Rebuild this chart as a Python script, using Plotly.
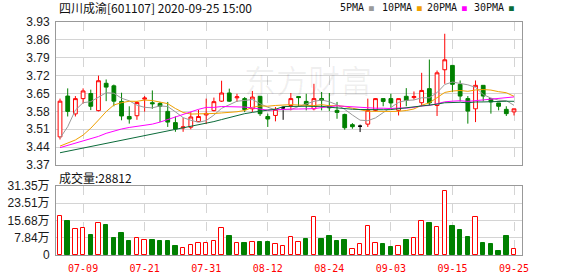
import plotly.graph_objects as go
import pandas as pd

# ---------------- data ----------------
dates = ["07-06", "07-07", "07-08", "07-09", "07-10", "07-13", "07-14", "07-15", "07-16", "07-17",
         "07-20", "07-21", "07-22", "07-23", "07-24", "07-27", "07-28", "07-29", "07-30", "07-31",
         "08-03", "08-04", "08-05", "08-06", "08-07", "08-10", "08-11", "08-12", "08-13", "08-14",
         "08-17", "08-18", "08-19", "08-20", "08-21", "08-24", "08-25", "08-26", "08-27", "08-28",
         "08-31", "09-01", "09-02", "09-03", "09-04", "09-07", "09-08", "09-09", "09-10", "09-11",
         "09-14", "09-15", "09-16", "09-17", "09-18", "09-21", "09-22", "09-23", "09-24", "09-25"]

open_ = [3.48, 3.64, 3.57, 3.63, 3.65, 3.583, 3.69, 3.68, 3.619, 3.56,
         3.563, 3.628, 3.614, 3.611, 3.58, 3.536, 3.515, 3.518, 3.54, 3.566,
         3.583, 3.62, 3.652, 3.633, 3.63, 3.59, 3.639, 3.56, 3.564, 3.594,
         3.603, 3.638, 3.619, 3.59, 3.63, 3.60, 3.584, 3.568, 3.528, 3.522,
         3.53, 3.584, 3.63, 3.63, 3.584, 3.639, 3.634, 3.614, 3.669, 3.603,
         3.743, 3.76, 3.686, 3.63, 3.59, 3.682, 3.63, 3.613, 3.588, 3.578]
high = [3.63, 3.67, 3.64, 3.67, 3.665, 3.72, 3.705, 3.685, 3.653, 3.60,
        3.62, 3.64, 3.662, 3.617, 3.617, 3.56, 3.555, 3.577, 3.586, 3.63,
        3.634, 3.70, 3.669, 3.649, 3.636, 3.66, 3.64, 3.571, 3.597, 3.60,
        3.652, 3.638, 3.649, 3.688, 3.656, 3.652, 3.617, 3.571, 3.534, 3.528,
        3.63, 3.632, 3.63, 3.649, 3.63, 3.671, 3.658, 3.731, 3.783, 3.74,
        3.884, 3.76, 3.701, 3.64, 3.701, 3.682, 3.63, 3.613, 3.60, 3.59]
low = [3.47, 3.56, 3.56, 3.61, 3.585, 3.58, 3.62, 3.60, 3.545, 3.532,
       3.547, 3.579, 3.59, 3.538, 3.519, 3.50, 3.50, 3.51, 3.539, 3.53,
       3.58, 3.617, 3.617, 3.617, 3.577, 3.577, 3.562, 3.519, 3.541, 3.547,
       3.584, 3.60, 3.584, 3.584, 3.584, 3.581, 3.551, 3.508, 3.512, 3.499,
       3.519, 3.58, 3.60, 3.594, 3.564, 3.60, 3.626, 3.60, 3.603, 3.562,
       3.688, 3.655, 3.619, 3.532, 3.538, 3.619, 3.571, 3.584, 3.562, 3.564]
close = [3.62, 3.58, 3.63, 3.66, 3.60, 3.70, 3.675, 3.62, 3.562, 3.55,
         3.615, 3.632, 3.61, 3.60, 3.538, 3.511, 3.519, 3.558, 3.56, 3.572,
         3.618, 3.652, 3.62, 3.637, 3.587, 3.636, 3.571, 3.55, 3.588, 3.594,
         3.63, 3.634, 3.607, 3.63, 3.623, 3.594, 3.576, 3.516, 3.52, 3.522,
         3.584, 3.63, 3.619, 3.613, 3.63, 3.623, 3.638, 3.662, 3.613, 3.731,
         3.782, 3.686, 3.64, 3.581, 3.682, 3.64, 3.617, 3.60, 3.571, 3.59]
# volume in 万 (10k shares)
volume_wan = [17.6, 15.4, 11.7, 12.1, 9.1, 14.4, 13.6, 7.7, 10.0, 6.4,
              7.6, 6.7, 6.8, 6.4, 6.4, 4.1, 3.0, 4.4, 5.3, 5.3,
              6.2, 12.1, 8.6, 5.3, 5.5, 5.8, 5.9, 5.9, 4.8, 3.9,
              8.0, 5.8, 7.3, 17.1, 7.3, 8.6, 6.4, 6.8, 2.6, 4.8,
              13.0, 5.3, 5.0, 3.6, 4.1, 6.8, 7.6, 15.3, 14.5, 12.7,
              28.9, 13.2, 11.4, 8.2, 17.1, 5.5, 5.0, 1.8, 8.6, 2.8812]

# moving-average values before the window is complete
ma5_head = [3.475, 3.52, 3.585, 3.614]
ma10_head = [3.444, 3.455, 3.468, 3.487, 3.514, 3.546, 3.579, 3.605, 3.614]
ma20_head = [3.438, 3.447, 3.456, 3.464, 3.472, 3.482, 3.494, 3.503, 3.511, 3.517,
             3.521, 3.525, 3.530, 3.538, 3.548, 3.559, 3.570, 3.580, 3.588]
ma30_head = [3.418, 3.424, 3.43, 3.436, 3.442, 3.448, 3.454, 3.46, 3.466, 3.472,
             3.478, 3.484, 3.49, 3.497, 3.504, 3.51, 3.516, 3.522, 3.528, 3.534,
             3.54, 3.548, 3.556, 3.564, 3.571, 3.576, 3.581, 3.585, 3.588]

tick_dates = ["07-09", "07-21", "07-31", "08-12", "08-24", "09-03", "09-15", "09-25"]
price_ticks = [3.37, 3.44, 3.51, 3.58, 3.65, 3.72, 3.79, 3.86, 3.93]
vol_ticks = [0, 7.84, 15.68, 23.51, 31.35]
vol_max = 31.35
title_text = "四川成渝[601107] 2020-09-25 15:00"
volume_title = "成交量"
last_volume = 28812
ma_names = ["5PMA", "10PMA", "20PMA", "30PMA"]

# ---------------- style ----------------
RED = "#ff0000"
GREEN = "#008000"
MA_COLORS = ["#9a9a9a", "#f0a000", "#ff00ff", "#0b6b3a"]
GRID = "#d4d4d4"
FRAME = "#999999"
W, H = 578, 276
ML, MR, MT, MB = 56, 56, 22, 21
PW, PH = W - ML - MR, H - MT - MB


def px(x):
    return (x - ML) / PW


def py(y):
    return (H - MB - y) / PH


s = pd.Series(close)


def moving_avg(n, head):
    roll = s.rolling(n).mean().tolist()
    return list(head) + roll[len(head):]


ma_series = [moving_avg(5, ma5_head), moving_avg(10, ma10_head),
             moving_avg(20, ma20_head), moving_avg(30, ma30_head)]

fig = go.Figure()

n = len(dates)
up = [i for i in range(n) if close[i] > open_[i]]
down = [i for i in range(n) if close[i] < open_[i]]
flat = [i for i in range(n) if close[i] == open_[i]]

for idxs, col, fill in [(up, RED, "#ffffff"), (down, GREEN, GREEN), (flat, "#000000", "#000000")]:
    if not idxs:
        continue
    fig.add_trace(go.Candlestick(
        x=[dates[i] for i in idxs],
        open=[open_[i] for i in idxs], high=[high[i] for i in idxs],
        low=[low[i] for i in idxs], close=[close[i] for i in idxs],
        increasing=dict(line=dict(color=col, width=1), fillcolor=fill),
        decreasing=dict(line=dict(color=col, width=1), fillcolor=fill),
        whiskerwidth=0, showlegend=False, hoverinfo="skip",
        xaxis="x", yaxis="y"))

for vals, col in zip(ma_series, MA_COLORS):
    fig.add_trace(go.Scatter(x=dates, y=vals, mode="lines",
                             line=dict(color=col, width=1),
                             showlegend=False, hoverinfo="skip",
                             xaxis="x", yaxis="y"))

# volume bars: red hollow when close >= previous close, green filled otherwise
vol_up = [close[0] >= open_[0]] + [close[i] >= close[i - 1] for i in range(1, n)]
fig.add_trace(go.Bar(
    x=dates, y=volume_wan, width=0.58,
    marker=dict(color=["#ffffff" if u else GREEN for u in vol_up],
                line=dict(color=[RED if u else GREEN for u in vol_up], width=1)),
    showlegend=False, hoverinfo="skip", xaxis="x2", yaxis="y2"))

xcommon = dict(type="category", categoryorder="array", categoryarray=dates,
               range=[-0.52, 60.04], tickmode="array", tickvals=tick_dates,
               showgrid=True, gridcolor=GRID, griddash="dash", gridwidth=1,
               showline=True, linecolor=FRAME, linewidth=1, mirror=True,
               ticks="", zeroline=False, fixedrange=True, automargin=False)

fig.update_layout(
    width=W, height=H, autosize=False,
    margin=dict(l=ML, r=MR, t=MT, b=MB, pad=0, autoexpand=False),
    paper_bgcolor="white", plot_bgcolor="white",
    showlegend=False, bargap=0,
    xaxis=dict(xcommon, anchor="y", showticklabels=False,
               rangeslider=dict(visible=False)),
    xaxis2=dict(xcommon, anchor="y2", matches="x", showticklabels=True,
                ticktext=tick_dates, ticklabelstandoff=4,
                tickfont=dict(family="DejaVu Sans Mono", size=10, color=RED)),
    yaxis=dict(domain=[py(165), 1], range=[price_ticks[0], price_ticks[-1]],
               tickmode="array", tickvals=price_ticks,
               ticktext=["%.2f" % v for v in price_ticks],
               showgrid=True, gridcolor=GRID, gridwidth=1,
               showline=True, linecolor=FRAME, mirror=True, ticks="",
               zeroline=False, ticklabelstandoff=3, automargin=False,
               tickfont=dict(family="Liberation Sans", size=12, color="#1a1a1a")),
    yaxis2=dict(domain=[0, py(186)], range=[0, vol_max],
                tickmode="array", tickvals=vol_ticks,
                ticktext=["0" if v == 0 else "%.2f万" % v for v in vol_ticks],
                showgrid=True, gridcolor=GRID, gridwidth=1,
                showline=True, linecolor=FRAME, mirror=True, ticks="",
                zeroline=False, ticklabelstandoff=3, automargin=False,
                tickfont=dict(family="Liberation Sans, Noto Sans CJK SC", size=12, color="#1a1a1a")),
)

ann = []
# watermark
ann.append(dict(text="东方财富", x=px(308), y=py(79), xref="paper", yref="paper",
                showarrow=False, xanchor="center", yanchor="middle",
                font=dict(family="Noto Sans CJK SC", size=32, color="rgba(0,0,0,0.06)")))
ann.append(dict(text=title_text, x=px(57), y=py(8), xref="paper", yref="paper",
                showarrow=False, xanchor="left", yanchor="middle",
                font=dict(family="Noto Sans CJK SC", size=12, color="#111")))
ann.append(dict(text="%s:%d" % (volume_title, last_volume), x=px(57), y=py(177),
                xref="paper", yref="paper", showarrow=False,
                xanchor="left", yanchor="middle",
                font=dict(family="Noto Sans CJK SC", size=12, color="#111")))
legend_x = [338, 380, 425, 472]
for name, col, lx in zip(ma_names, MA_COLORS, legend_x):
    ann.append(dict(text=name + "<span style='color:%s;font-size:8px'> ■</span>" % col,
                    x=px(lx), y=py(8), xref="paper", yref="paper",
                    showarrow=False, xanchor="left", yanchor="middle",
                    font=dict(family="DejaVu Sans Mono", size=10, color="#111")))
fig.update_layout(annotations=ann)

fig.write_html("out.html")
